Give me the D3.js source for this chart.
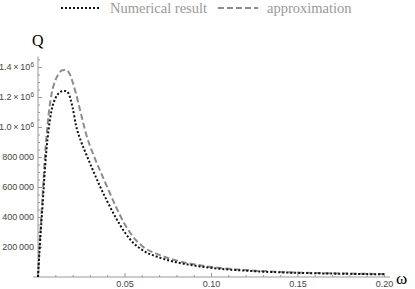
<!DOCTYPE html>
<html>
<head>
<meta charset="utf-8">
<script src="https://cdn.jsdelivr.net/npm/d3@7"></script>
<style>
  body { margin: 0; background: #fff; }
  svg { display: block; }
  .tick text { font-family: "Liberation Sans", Arial, sans-serif; font-size: 9px; fill: #444; }
</style>
</head>
<body>
<svg></svg>
<script>
// data
let omega = [0, 0.001, 0.002, 0.003, 0.004, 0.005, 0.006, 0.008, 0.010, 0.012, 0.014, 0.016, 0.018, 0.020, 0.022, 0.025, 0.028, 0.032, 0.036, 0.040, 0.045, 0.050, 0.055, 0.060, 0.070, 0.080, 0.090, 0.100, 0.120, 0.140, 0.160, 0.180, 0.200]
let numerical = [0, 200000, 370000, 540000, 720000, 860000, 970000, 1120000, 1190000, 1225000, 1238000, 1240000, 1215000, 1130000, 1010000, 900000, 815000, 705000, 600000, 505000, 395000, 300000, 228000, 182000, 130000, 98000, 77000, 61000, 42000, 31000, 25000, 21000, 18000]
let approximation = [0, 230000, 420000, 610000, 800000, 950000, 1070000, 1230000, 1310000, 1355000, 1378000, 1380000, 1360000, 1300000, 1220000, 1080000, 945000, 815000, 705000, 600000, 470000, 355000, 268000, 208000, 148000, 110000, 85000, 67000, 46000, 34000, 27000, 23000, 20000]

let xMajor = [0.05, 0.10, 0.15, 0.20]
let yMajor = [200000, 400000, 600000, 800000, 1000000, 1200000, 1400000]
let legendNames = ['Numerical result', 'approximation']

let width = 415
let height = 289

let svg = d3.select('svg')
    .attr('width', width)
    .attr('height', height)

let xScale = d3.scaleLinear().domain([0, 0.2]).range([38, 384])
let yScale = d3.scaleLinear().domain([0, 1400000]).range([277, 67])

// axis lines
svg.append('line')
   .attr('x1', 33).attr('x2', 390)
   .attr('y1', yScale(0)).attr('y2', yScale(0))
   .attr('stroke', '#999').attr('stroke-width', 1)
svg.append('line')
   .attr('x1', xScale(0)).attr('x2', xScale(0))
   .attr('y1', yScale(0)).attr('y2', yScale(1470000))
   .attr('stroke', '#999').attr('stroke-width', 1)

// minor ticks
let xMinor = d3.range(1, 21).map(i => i / 100).filter(v => !xMajor.some(m => Math.abs(m - v) < 1e-9))
let yMinor = d3.range(1, 30).map(i => i * 50000).filter(v => v % 200000 != 0)

let xMinorAxis = d3.axisBottom(xScale).tickValues(xMinor).tickSizeInner(-2).tickSizeOuter(0).tickFormat('')
let yMinorAxis = d3.axisLeft(yScale).tickValues(yMinor).tickSizeInner(-2).tickSizeOuter(0).tickFormat('')

svg.append('g').attr('transform', 'translate(0,' + yScale(0) + ')').call(xMinorAxis)
svg.append('g').attr('transform', 'translate(' + xScale(0) + ',0)').call(yMinorAxis)

let xAxis = d3.axisBottom(xScale)
    .tickValues(xMajor)
    .tickSizeInner(-4).tickSizeOuter(0).tickPadding(4)
    .tickFormat(d3.format('.2f'))

let yAxis = d3.axisLeft(yScale)
    .tickValues(yMajor)
    .tickSizeInner(-4).tickSizeOuter(0).tickPadding(4)
    .tickFormat('')

let gx = svg.append('g').attr('transform', 'translate(0,' + yScale(0) + ')').call(xAxis)
let gy = svg.append('g').attr('transform', 'translate(' + xScale(0) + ',0)').call(yAxis)

svg.selectAll('.domain').remove()
svg.selectAll('.tick line').attr('stroke', '#999')

// y tick labels: plain digits with a space, or a × 10^6 form
gy.selectAll('.tick text').each(function(d) {
    let t = d3.select(this)
    if (d >= 1000000) {
        t.append('tspan').text((d / 1000000).toFixed(1) + '\u2009\u00d7\u200910')
        t.append('tspan').attr('dy', '-3.5').attr('font-size', '6.5px').text('6')
    } else {
        let s = String(d)
        t.text(s.slice(0, s.length - 3) + '\u2009' + s.slice(-3))
    }
})

// curves
let line = d3.line()
    .x((d, i) => xScale(omega[i]))
    .y(d => yScale(d))
    .curve(d3.curveMonotoneX)

svg.append('path')
   .attr('d', line(approximation))
   .attr('fill', 'none')
   .attr('stroke', '#8c8c8c')
   .attr('stroke-width', 2)
   .attr('stroke-dasharray', '6,3')

svg.append('path')
   .attr('d', line(numerical))
   .attr('fill', 'none')
   .attr('stroke', '#111')
   .attr('stroke-width', 2)
   .attr('stroke-dasharray', '2,2')

// axis titles
svg.append('text')
   .attr('x', 32).attr('y', 46)
   .attr('font-family', '"Liberation Serif", "Times New Roman", serif')
   .attr('font-size', 16)
   .text('Q')
svg.append('text')
   .attr('x', 396).attr('y', 284)
   .attr('font-family', '"Liberation Serif", "Times New Roman", serif')
   .attr('font-size', 17)
   .text('\u03c9')

// legend
let legend = [
    {name: legendNames[0], x1: 61, x2: 100, tx: 110, stroke: '#111', dash: '2,2'},
    {name: legendNames[1], x1: 218, x2: 258, tx: 267, stroke: '#8c8c8c', dash: '6,3'}
]
legend.forEach(l => {
    svg.append('line')
       .attr('x1', l.x1).attr('x2', l.x2)
       .attr('y1', 8).attr('y2', 8)
       .attr('stroke', l.stroke).attr('stroke-width', 2)
       .attr('stroke-dasharray', l.dash)
    svg.append('text')
       .attr('x', l.tx).attr('y', 13)
       .attr('font-family', '"Liberation Serif", "Times New Roman", serif')
       .attr('font-size', 14.5)
       .attr('fill', '#999')
       .text(l.name)
})
</script>
</body>
</html>
